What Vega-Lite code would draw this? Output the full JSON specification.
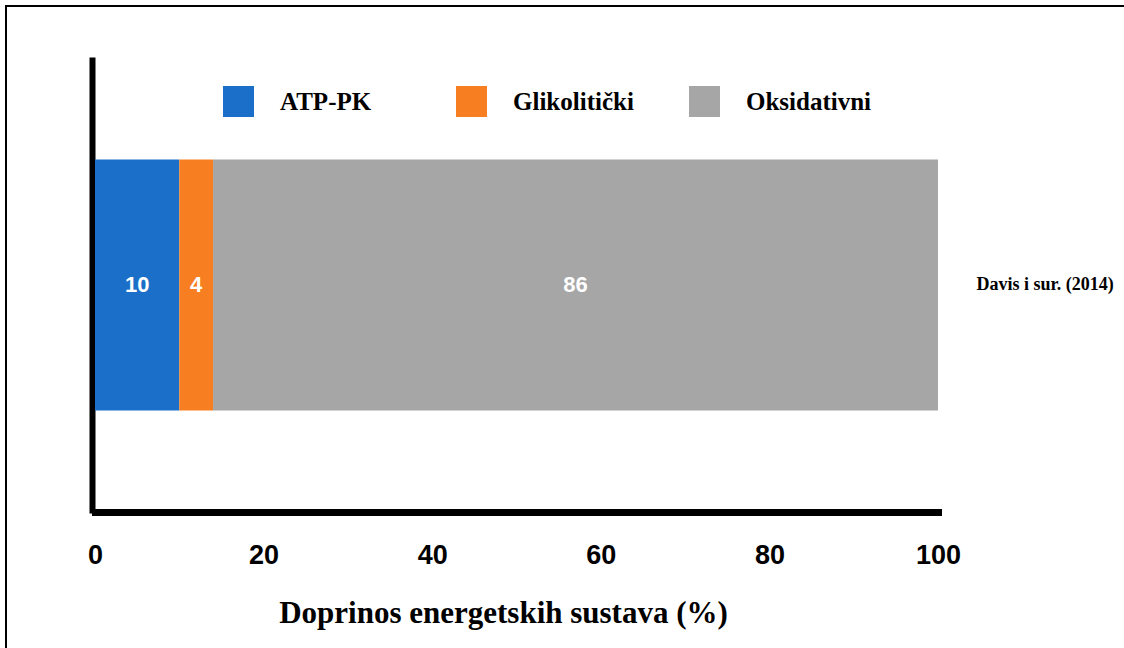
{
  "$schema": "https://vega.github.io/schema/vega-lite/v6.json",
  "width": 1122,
  "height": 646,
  "autosize": {"type": "none"},
  "padding": {"left": 6, "top": 6, "right": 0, "bottom": 0},
  "background": "white",
  "config": {
    "view": {"stroke": "black", "strokeWidth": 2}
  },
  "data": {
    "values": [
      {"sustav": "ATP-PK", "vrijednost": 10, "studija": "Davis i sur. (2014)", "red": 1},
      {"sustav": "Glikolitički", "vrijednost": 4, "studija": "Davis i sur. (2014)", "red": 2},
      {"sustav": "Oksidativni", "vrijednost": 86, "studija": "Davis i sur. (2014)", "red": 3}
    ]
  },
  "transform": [
    {"stack": "vrijednost", "groupby": ["studija"], "sort": [{"field": "red", "order": "ascending"}], "as": ["x0", "x1"]},
    {"calculate": "(datum.x0 + datum.x1) / 2", "as": "mid"}
  ],
  "layer": [
    {
      "mark": {"type": "bar"},
      "encoding": {
        "x": {
          "field": "x0", "type": "quantitative",
          "scale": {"domain": [0, 100], "range": [89, 932], "nice": false, "zero": true},
          "axis": {
            "orient": "bottom", "offset": -140,
            "values": [0, 20, 40, 60, 80, 100],
            "grid": false, "ticks": false, "tickSize": 0,
            "domain": true, "domainColor": "black", "domainWidth": 7, "domainCap": "square",
            "labelFont": "Liberation Sans", "labelFontWeight": "bold", "labelFontSize": 27, "labelColor": "black",
            "labelBaseline": "middle", "labelPadding": 43, "labelFlush": false, "labelAlign": "center",
            "title": "Doprinos energetskih sustava (%)",
            "titleFont": "Liberation Serif", "titleFontWeight": "bold", "titleFontSize": 31, "titleColor": "black",
            "titleX": 497, "titleY": 110, "titleAlign": "center", "titleBaseline": "alphabetic", "titleAnchor": null
          }
        },
        "x2": {"field": "x1"},
        "y": {
          "field": "studija", "type": "nominal",
          "scale": {"range": [54, 504], "paddingInner": 0, "paddingOuter": 0.3964},
          "axis": {
            "orient": "left", "offset": -86,
            "labels": false, "ticks": false, "title": null, "grid": false,
            "domain": true, "domainColor": "black", "domainWidth": 6, "domainCap": "square"
          }
        },
        "color": {
          "field": "sustav", "type": "nominal",
          "scale": {"domain": ["ATP-PK", "Glikolitički", "Oksidativni"], "range": ["#1b6fc8", "#f77f21", "#a6a6a6"]},
          "legend": {
            "orient": "none", "legendX": 217, "legendY": 80, "padding": 0,
            "direction": "horizontal", "title": null,
            "gridAlign": "all", "columnPadding": 50,
            "symbolType": "square", "symbolSize": 961, "symbolStrokeWidth": 0,
            "labelFont": "Liberation Serif", "labelFontWeight": "bold", "labelFontSize": 25, "labelColor": "black",
            "labelOffset": 26, "labelLimit": 400,
            "encode": {
              "symbols": {
                "update": {
                  "fill": {"signal": "datum.value === 'ATP-PK' ? '#0a7dd3' : datum.value === 'Glikolitički' ? '#f7931e' : '#8e8e8e'"},
                  "opacity": {"value": 1}
                }
              }
            }
          }
        },
        "order": {"field": "red"}
      }
    },
    {
      "mark": {"type": "text", "font": "Liberation Sans", "fontWeight": "bold", "fontSize": 22, "color": "white", "baseline": "middle", "align": "center"},
      "encoding": {
        "x": {
          "field": "mid", "type": "quantitative",
          "scale": {"domain": [0, 100], "range": [89, 932], "nice": false, "zero": true},
          "axis": null
        },
        "y": {
          "field": "studija", "type": "nominal",
          "scale": {"range": [54, 504], "paddingInner": 0, "paddingOuter": 0.3964},
          "axis": {
            "orient": "right", "offset": -152,
            "domain": false, "ticks": false, "tickSize": 0, "grid": false, "title": null,
            "labelFont": "Liberation Serif", "labelFontWeight": "bold", "labelFontSize": 18, "labelColor": "black",
            "labelPadding": 0, "labelAlign": "left", "labelBaseline": "middle", "labelLimit": 300
          }
        },
        "text": {"field": "vrijednost", "type": "quantitative"}
      }
    }
  ],
  "resolve": {"axis": {"x": "independent", "y": "independent"}}
}
